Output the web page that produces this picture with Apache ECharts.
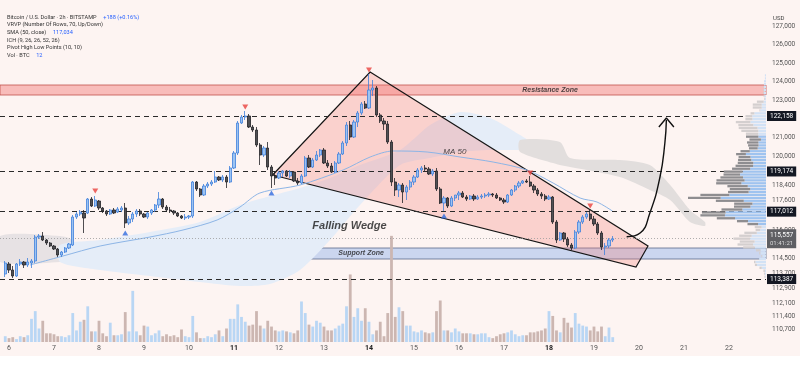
<!DOCTYPE html>
<html>
<head>
<meta charset="utf-8">
<script src="https://cdn.jsdelivr.net/npm/echarts@6.0.0/dist/echarts.min.js"></script>
<style>
html,body{margin:0;padding:0;background:#ffffff;}
#chart{width:800px;height:381px;}
</style>
</head>
<body>
<div id="chart"></div>
<script>
// ===================== DATA =====================
// BTC/USD 2h candles. x = candle index, 0 = 6 Aug 00:00, step = 2 hours. First candle has index -1.
const firstIndex = -1;
// [open, high, low, close]
const candles = [
[113658,114357,113496,114250],[114196,114303,113712,113873],[113873,114088,113443,113550],[113550,114250,113496,114196],
[114196,114465,114088,114303],[114303,114357,113981,114142],[114142,114519,114034,114303],[114250,114465,113981,114357],
[114357,115756,114250,115648],[115648,115810,115541,115702],[115702,115917,115433,115487],[115487,115541,115218,115326],
[115326,115379,115110,115164],[115164,115218,114949,115003],[115003,115057,114572,114680],[114680,114895,114572,114841],
[114841,115110,114788,115057],[115057,115326,115003,115272],[115218,116832,115164,116724],[116724,116993,116617,116886],
[116886,117101,116778,116993],[116940,117101,115864,116671],[116940,117747,116886,117693],[117693,117800,117262,117316],
[117316,117854,117262,117639],[117585,117639,117101,117209],[117209,117262,116940,117047],[117047,117101,116778,116886],
[116886,117155,116832,117101],[117101,117209,116886,116940],[116993,117262,116940,117155],[117101,117316,116993,117209],
[117209,117478,116133,116402],[116402,116778,116294,116617],[116617,116993,116455,116886],[116886,117155,116724,117047],
[117047,117155,116778,116886],[116886,116940,116671,116724],[116724,116993,116617,116940],[116940,117155,116832,117101],
[117101,117424,116993,117370],[117370,118069,117209,117693],[117693,117747,117155,117262],[117262,117370,116993,117101],
[117101,117262,116940,117047],[117047,117101,116832,116940],[116940,116993,116724,116778],[116778,116832,116617,116671],
[116671,116886,116563,116724],[116724,116832,116617,116778],[116778,118661,116671,118607],[118607,118661,118123,118231],
[118231,118285,117800,117908],[117908,118500,117854,118392],[118392,118607,118285,118500],[118500,118715,118392,118607],
[118607,119199,118554,118876],[118876,118930,118661,118715],[118715,118984,118607,118876],[118876,118984,118285,118607],
[118607,119468,118554,119361],[119361,120275,119307,120168],[120168,121889,120060,121782],[121782,122212,121728,122104],
[122104,122427,121943,122158],[122158,122266,121513,121566],[121566,121674,121297,121405],[121405,121566,120490,120598],
[120598,120706,119522,120060],[120060,120544,119952,120437],[120437,120759,119253,119414],[119414,119522,118285,118930],
[118930,119199,118446,118823],[118823,119199,118769,119092],[119092,119253,118876,119199],[119199,119253,118876,118930],
[118930,119253,118823,119145],[119145,119199,118607,118661],[118661,118823,118446,118554],[118554,119038,118500,118930],
[118930,120006,118876,119899],[119899,120060,119361,119414],[119414,119899,119361,119791],[119791,120275,119737,120060],
[120060,120383,119952,120329],[120329,120437,119576,119630],[119630,119791,119361,119468],[119468,119630,119092,119145],
[119145,119737,119092,119630],[119630,120221,119576,120114],[120114,120813,120060,120706],[120706,121835,120544,121674],
[121674,121889,120867,121028],[121028,121943,120975,121835],[121835,122427,121566,122320],[122320,122911,122212,122804],
[122804,122965,122535,122589],[122589,124418,122535,123557],[123557,124095,123234,123665],[123665,123772,122104,122212],
[122212,122320,121782,121889],[121889,122051,121405,121728],[121728,121889,120652,120759],[120759,120867,118392,118607],
[118607,118823,117854,118177],[118177,118554,117800,118446],[118446,118554,117478,118069],[118069,118446,117639,118338],
[118338,118715,118177,118607],[118607,118984,118446,118876],[118876,119361,118823,119253],[119253,119468,119092,119361],
[119361,119522,119199,119307],[119307,119414,118984,119038],[119038,119307,118930,119199],[119199,119361,118123,118231],
[118231,118338,117424,117478],[117478,117854,117047,117747],[117747,117800,117209,117316],[117316,117854,117262,117747],
[117747,117908,117585,117908],[117908,118123,117639,118016],[118016,118123,117747,117800],[117800,117908,117585,117693],
[117693,117908,117639,117854],[117854,117962,117585,117693],[117693,117908,117639,117800],[117800,117962,117693,117854],
[117854,118016,117747,117908],[117908,118069,117800,117962],[117962,118016,117800,117908],[117908,118016,117693,117747],
[117747,117800,117585,117639],[117639,117747,117424,117531],[117531,117962,117478,117908],[117908,118231,117854,118177],
[118177,118446,118069,118392],[118392,118661,118285,118554],[118554,118715,118500,118661],[118661,118769,118554,118607],
[118607,118930,118338,118392],[118392,118500,118016,118177],[118177,118285,117854,117962],[117962,118069,117693,117854],
[117854,117962,117585,117693],[117693,117908,117639,117800],[117800,117854,116348,116455],[116455,116563,115326,115487],
[115487,115917,115433,115864],[115864,115917,115379,115541],[115541,115648,115110,115218],[115218,115326,114949,115057],
[115057,116025,115003,115917],[115917,116563,115810,116455],[116455,116832,116348,116724],[116724,116993,116617,116886],
[116886,117155,116509,116617],[116617,116778,116240,116348],[116348,116455,115756,115864],[115864,115971,114949,115110],
[115110,115326,114680,115164],[115164,115595,115057,115487],[115487,115702,115379,115557]
];
// volume per candle, BTC
const volumes = [
120,80,100,60,120,100,140,480,640,280,
440,180,180,160,120,120,100,140,600,240,
420,460,740,220,220,440,180,120,400,140,
140,160,620,220,1060,220,140,340,320,140,
180,240,120,160,120,140,100,260,120,100,
540,200,80,80,120,100,160,240,120,280,
480,480,780,520,420,340,360,640,340,280,
440,320,240,220,240,220,200,180,240,840,
600,360,320,440,400,320,240,240,280,340,
380,740,1400,520,700,440,700,420,160,240,
420,120,600,2200,520,720,640,340,340,220,
200,240,200,180,200,640,860,240,240,200,
280,220,180,180,180,160,160,180,180,100,
80,120,160,180,200,240,160,120,140,140,
200,200,220,240,280,640,540,240,200,500,
400,300,600,380,340,320,240,320,220,320,
120,300,100
];
const dayTickIndex = [0,12,24,36,48,60,72,84,96,108,120,132,144,156,168,180,192];
const dayLabels = ['6','7','8','9','10','11','12','13','14','15','16','17','18','19','20','21','22'];
const boldDays = ['11','14','18'];
const priceTicks = [127000,126000,125000,124000,123000,121000,120000,118400,117600,116000,114500,113700,112900,112100,111400,110700];
const levelPrices = [122158,119174,117012,113387];
const lastPrice = 115557;
const countdown = '01:41:21';
const resistanceZone = [123288,123826];
const supportZone = [114465,115057];
// SMA 50 [index, price]
const ma50 = [[5.6,114142],[14.4,114626],[24.3,115164],[37.6,115648],[46.4,116025],[55.5,116563],[61.6,117262],
[66.9,118015],[77.6,118446],[89.1,119253],[96.3,119952],[102.4,120276],[111.5,120222],[120.3,119952],[129.1,119683],
[138.1,119253],[145.1,118553],[152.3,117746],[156.8,117531],[161,117034]];
// Ichimoku cloud [index, upper, lower]
const cloudBlue = [[13.6,115218,114303],[24.3,115487,113873],[37.6,115917,113550],[50.9,116455,113227],[61.6,117370,113012],
[69.6,117854,113120],[77.6,118285,113873],[85.6,118823,115487],[93.6,119522,117370],[104.3,120329,119522],
[112.3,121674,119899],[120.3,122373,120221],[128.3,122051,120329],[136.3,121136,120329],[140.3,120598,120329]];
const cloudGrayLeft = [[-2.4,115702,114303],[13.6,115702,114303],[16.8,115487,114519]];
const cloudGrayRight = [[136.3,120867,120221],[146.9,120759,119522],[149.6,119899,119414],[162.9,119791,118876],
[170.9,119522,118177],[176.3,118446,117639],[181.6,117101,116455],[185.6,116455,116240]];
const pivotHighs = [[23,118123],[63,122642],[96,124633],[139,119092],[155,117316]];
const pivotLows = [[31,115864],[70,118016],[116,116778]];
const wedge = [[70.3,118984],[96.3,124525],[170.4,115164],[167.2,114034]];
const arrowPath = [[164.7,115665],[168.3,115864],[170.9,116940],[173.6,118876],[174.9,120706],[175.3,121943]];
const arrowHead = [[173.3,121566],[175.3,122051],[177.3,121566]];
const notes = [
  {text:'Falling Wedge', at:[90.8,116240], size:11, weight:'bold'},
  {text:'MA 50', at:[118.9,120221], size:8, weight:'normal'},
  {text:'Resistance Zone', at:[144.3,123557], size:7, weight:'bold'},
  {text:'Support Zone', at:[93.9,114788], size:7, weight:'bold'}
];
const legendLines = [
  ['Bitcoin / U.S. Dollar · 2h · BITSTAMP', '+188 (+0.16%)'],
  ['VRVP (Number Of Rows, 70, Up/Down)', ''],
  ['SMA (50, close)', '117,034'],
  ['ICH (9, 26, 26, 52, 26)', ''],
  ['Pivot High Low Points (10, 10)', ''],
  ['Vol · BTC', '12']
];
const vrvpRows = 70;

// ===================== BUILD =====================
const FONT = 'Roboto, "Noto Sans", sans-serif';
const candleData = candles.map((c,k)=>[firstIndex+k, c[0], c[3], c[2], c[1]]);
const volData = volumes.map((v,k)=>({value:[firstIndex+k, v],
  itemStyle:{color: candles[k][3] >= candles[k][0] ? '#b9d6f4' : '#ccb6b1'}}));

// Visible range volume profile (up/down) built from the candles
let lo = Infinity, hi = -Infinity;
candles.forEach(c=>{ lo=Math.min(lo,c[2]); hi=Math.max(hi,c[1]); });
const step = (hi-lo)/vrvpRows;
const upV = new Array(vrvpRows).fill(0), dnV = new Array(vrvpRows).fill(0);
candles.forEach((c,k)=>{
  const span = Math.max(c[1]-c[2], 1);
  for (let r=0;r<vrvpRows;r++){
    const a=lo+r*step, b=a+step;
    const ov=Math.min(b,c[1])-Math.max(a,c[2]);
    if (ov>0){ const s=volumes[k]*ov/span; if (c[3]>=c[0]) upV[r]+=s; else dnV[r]+=s; }
  }
});
const tot = upV.map((u,r)=>u+dnV[r]);
const totalVol = tot.reduce((a,b)=>a+b,0);
let poc = 0; tot.forEach((t,r)=>{ if (t>tot[poc]) poc=r; });
let vaLo=poc, vaHi=poc, acc=tot[poc];
while (acc < 0.7*totalVol && (vaLo>0 || vaHi<vrvpRows-1)){
  const nu = vaHi<vrvpRows-1 ? tot[vaHi+1] : -1;
  const nd = vaLo>0 ? tot[vaLo-1] : -1;
  if (nu>=nd){ vaHi++; acc+=nu; } else { vaLo--; acc+=nd; }
}
const maxTot = Math.max(...tot);
const vrvpData = tot.map((t,r)=>[200, lo+r*step, lo+(r+1)*step, upV[r], dnV[r], (r>=vaLo&&r<=vaHi)?1:0]);

function polySeries(points, fill, stroke, z){
  return {type:'custom', silent:true, z:z, clip:true,
    data: points, encode:{x:0, y:[1]},
    renderItem:(params, api)=>{
      if (params.dataIndex!==0) return null;
      let pts;
      if (points[0].length===3){
        const upper = points.map(p=>api.coord([p[0],p[1]]));
        const lower = points.slice().reverse().map(p=>api.coord([p[0],p[2]]));
        pts = upper.concat(lower);
      } else pts = points.map(p=>api.coord(p));
      return {type:'polygon', shape:{points:pts, smooth: points[0].length===3 ? 0.25 : 0},
        style:{fill:fill, stroke:stroke||null, lineWidth: stroke?1.2:0}};
    }};
}

const option = {
  animation:false,
  backgroundColor:'#ffffff',
  graphic:[
    {type:'rect', z:-10, silent:true, shape:{x:0,y:0,width:800,height:356}, style:{fill:'#fdf4f2'}},
    {type:'text', silent:true, style:{x:773, y:18, text:'USD', font:'6px '+FONT, fill:'#444', verticalAlign:'middle'}},
  ].concat(legendLines.map((l,k)=>({type:'text', silent:true, z:100,
    style:{x:7, y:17.3+k*7.6, verticalAlign:'middle',
      text:'{a|'+l[0]+'}'+(l[1]?'  {b|'+l[1]+'}':''),
      rich:{a:{fontSize:5.6, fontFamily:FONT, fill:'#333'}, b:{fontSize:5.6, fontFamily:FONT, fill:'#2962ff'}}}}))),
  grid:{left:0, right:34, top:12, bottom:39, containLabel:false},
  xAxis:{type:'value', min:-2.4, max:201.87,
    axisLine:{show:false}, axisTick:{show:false}, splitLine:{show:false},
    axisLabel:{customValues:dayTickIndex, margin:3, fontSize:7, fontFamily:FONT, color:'#555',
      formatter:(v)=>{ const k=dayTickIndex.indexOf(v); const t=dayLabels[k]; return boldDays.indexOf(t)>=0?'{b|'+t+'}':t; },
      rich:{b:{fontWeight:'bold', fontSize:7, fontFamily:FONT, color:'#222'}}}},
  yAxis:[
    {type:'value', position:'right', min:110000, max:127754, scale:true,
      axisLine:{show:false}, axisTick:{show:false}, splitLine:{show:false},
      axisLabel:{customValues:priceTicks, margin:6, fontSize:6.5, fontFamily:FONT, color:'#555',
        formatter:(v)=>v.toLocaleString('en-US')}},
    {type:'value', min:0, max:6840, show:false}
  ],
  series:[
    polySeries(cloudGrayLeft, '#e7e2e4', null, 1),
    polySeries(cloudBlue, '#e5edf8', null, 1),
    polySeries(cloudGrayRight, '#e2dedd', null, 1),
    {type:'bar', yAxisIndex:1, data:volData, barWidth:2.8, z:2, silent:true},
    polySeries(wedge, 'rgba(244,120,110,0.28)', '#151515', 3),
    {type:'line', data:ma50, smooth:0.3, showSymbol:false, z:4, silent:true,
      lineStyle:{color:'#8db5e6', width:1}},
    {type:'candlestick', data:candleData, encode:{x:0, y:[1,2,3,4]}, barWidth:2.6, z:5, silent:true,
      itemStyle:{color:'#9cc3f2', color0:'#505054', borderColor:'#3f80dc', borderColor0:'#222226', borderWidth:0.8}},
    // zones
    {type:'line', data:[[-2.4,null]], z:6, silent:true, showSymbol:false,
      markArea:{silent:true, label:{show:false},
        data:[
          [{yAxis:resistanceZone[0], itemStyle:{color:'rgba(240,110,110,0.42)', borderColor:'#c0504d', borderWidth:0.8}}, {yAxis:resistanceZone[1]}],
          [{yAxis:supportZone[0], itemStyle:{color:'rgba(120,165,235,0.38)', borderColor:'#5a6a8a', borderWidth:0.8}}, {yAxis:supportZone[1]}]
        ]}},
    // horizontal levels
    {type:'line', data:[[-2.4,null]], z:7, silent:true, showSymbol:false,
      markLine:{silent:true, symbol:['none','none'], animation:false,
        lineStyle:{color:'#2a2a2a', type:[5,4], width:1},
        label:{position:'end', distance:1, fontSize:6.5, fontFamily:FONT, color:'#ffffff', backgroundColor:'#131722',
          padding:[2,3,1,3], formatter:(p)=>Number(p.value).toLocaleString('en-US')},
        data: levelPrices.map(v=>({yAxis:v})).concat([{yAxis:lastPrice,
          lineStyle:{color:'#9a9a9a', type:[1,2], width:0.8},
          label:{backgroundColor:'#5f5f63', padding:[2,3,1,3], lineHeight:8,
            formatter:()=>'{a|'+lastPrice.toLocaleString('en-US')+'}\n{b|'+countdown+'}',
            rich:{a:{color:'#fff', fontSize:6.5, fontFamily:FONT}, b:{color:'#d8d8d8', fontSize:6, fontFamily:FONT}}}}])}},
    // volume profile
    {type:'custom', silent:true, z:8, data:vrvpData, encode:{x:0, y:[1,2]},
      renderItem:(params, api)=>{
        const r = vrvpData[params.dataIndex];
        const yTop = api.coord([0, r[2]])[1], yBot = api.coord([0, r[1]])[1];
        const right = params.coordSys.x + params.coordSys.width;
        const W = 78;
        const wu = r[3]/maxTot*W, wd = r[4]/maxTot*W;
        const va = r[5]===1;
        const h = Math.max(yBot-yTop-0.6, 0.5);
        return {type:'group', children:[
          {type:'rect', shape:{x:right-wu, y:yTop+0.3, width:wu, height:h}, style:{fill: va?'#9fc3ef':'#d3e2f5'}},
          {type:'rect', shape:{x:right-wu-wd, y:yTop+0.3, width:wd, height:h}, style:{fill: va?'#8e8d90':'#d4cfcf'}}
        ]};
      }},
    // pivots
    {type:'scatter', data:pivotHighs, symbol:'triangle', symbolRotate:180, symbolSize:[6,5], z:9, silent:true,
      itemStyle:{color:'#e8413d'}},
    {type:'scatter', data:pivotLows, symbol:'triangle', symbolSize:[6,5], z:9, silent:true,
      itemStyle:{color:'#2f6be0'}},
    // arrow
    {type:'line', data:arrowPath, smooth:0.5, showSymbol:false, z:10, silent:true, lineStyle:{color:'#111', width:1.4}},
    {type:'line', data:arrowHead, showSymbol:false, z:10, silent:true, lineStyle:{color:'#111', width:1.4}},
    // annotation texts
    {type:'scatter', symbolSize:0, z:11, silent:true,
      data: notes.map(n=>({value:n.at, label:{show:true, position:'inside', formatter:n.text,
        fontSize:n.size, fontWeight:n.weight, fontStyle:'italic', fontFamily:'"Liberation Sans", Arial, sans-serif', color:'#1d1d1d'}}))}
  ]
};
const chart = echarts.init(document.getElementById('chart'), null, {renderer:'canvas'});
chart.setOption(option);
</script>
</body>
</html>
